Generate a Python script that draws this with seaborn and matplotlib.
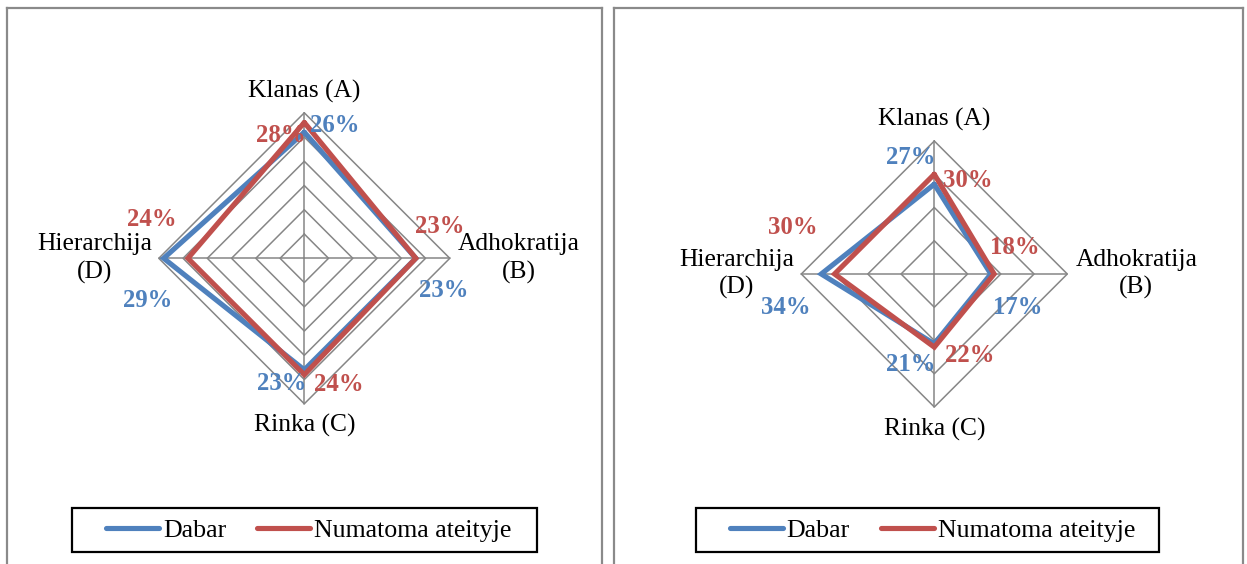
import numpy as np
import pandas as pd
import matplotlib
matplotlib.use("Agg")
import matplotlib.pyplot as plt
import seaborn as sns
from matplotlib.lines import Line2D
from matplotlib.patches import Rectangle

# ---- data -------------------------------------------------------------
categories = ["Klanas (A)", "Adhokratija\n(B)", "Rinka (C)", "Hierarchija\n(D)"]
series_names = ["Dabar", "Numatoma ateityje"]

left_dabar = [26, 23, 23, 29]
left_future = [28, 23, 24, 24]
right_dabar = [27, 17, 21, 34]
right_future = [30, 18, 22, 30]

left_ticks = [5, 10, 15, 20, 25, 30]
right_ticks = [10, 20, 30, 40]

# ---- styling ------------------------------------------------------------
sns.set_theme(style="white")
plt.rcParams["font.family"] = ["Liberation Serif", "DejaVu Serif"]
plt.rcParams["text.color"] = "black"

BLUE = "#4F81BD"
RED = "#C0504D"
GRID = "#868686"
palette = {series_names[0]: BLUE, series_names[1]: RED}

W, H = 1247, 564
fig = plt.figure(figsize=(W / 100, H / 100), dpi=100)

PX2PT = 72 / 100

# label offsets (pixels, x right / y up) for the value labels
left_off = {
    series_names[0]: [(30, 7), (28, -32), (-23, -14), (-16, -42)],
    series_names[1]: [(-23, -13), (24, 32), (35, -10), (-36, 39)],
}
right_off = {
    series_names[0]: [(-24, 27), (27, -34), (-24, -21), (-35, -34)],
    series_names[1]: [(34, -6), (21, 26), (35, -8), (-42, 46)],
}


def unit_dirs(n):
    ang = np.pi / 2 - np.arange(n) * 2 * np.pi / n
    return np.cos(ang), np.sin(ang)


def radar_panel(box, center, radius_px, ticks, dabar, future, offsets):
    x0, x1, ytop = box
    cx, cy = center
    rmax = ticks[-1]
    s = radius_px / rmax  # pixels per data unit
    ax = fig.add_axes([x0 / W, 0, (x1 - x0) / W, (H - ytop) / H])
    ax.set_xlim((x0 - cx) / s, (x1 - cx) / s)
    ax.set_ylim(-(H - cy) / s, (cy - ytop) / s)
    ax.set_xticks([])
    ax.set_yticks([])
    for side in ("top", "left", "right"):
        ax.spines[side].set_color("#8a8a8a")
        ax.spines[side].set_linewidth(1.6)
    ax.spines["bottom"].set_visible(False)

    ux, uy = unit_dirs(len(categories))

    # polygon grid rings and spokes
    for t in ticks:
        gx = np.append(ux * t, ux[0] * t)
        gy = np.append(uy * t, uy[0] * t)
        ax.plot(gx, gy, color=GRID, lw=1.1, zorder=1)
    for dx, dy in zip(ux, uy):
        ax.plot([0, dx * rmax], [0, dy * rmax], color=GRID, lw=1.1, zorder=1)

    # series polygons
    rows = []
    for name, vals in zip(series_names, [dabar, future]):
        closed = list(vals) + [vals[0]]
        dirs_x = list(ux) + [ux[0]]
        dirs_y = list(uy) + [uy[0]]
        for k, (v, dx, dy) in enumerate(zip(closed, dirs_x, dirs_y)):
            rows.append({"series": name, "step": k, "x": v * dx, "y": v * dy})
    df = pd.DataFrame(rows)
    sns.lineplot(data=df, x="x", y="y", hue="series", hue_order=series_names,
                 palette=palette, sort=False, estimator=None, linewidth=3.7,
                 solid_joinstyle="miter", legend=False, ax=ax, zorder=3)
    ax.set_xlabel("")
    ax.set_ylabel("")

    # value labels
    for name, vals in zip(series_names, [dabar, future]):
        for k, v in enumerate(vals):
            ox, oy = offsets[name][k]
            ax.annotate(f"{v}%", xy=(v * ux[k], v * uy[k]),
                        xytext=(ox * PX2PT, oy * PX2PT), textcoords="offset points",
                        ha="center", va="center", fontsize=17.8, fontweight="bold",
                        color=palette[name], zorder=4)

    # category labels around the outer ring
    cat_pos = [
        dict(xytext=(0, 21.5), ha="center", va="center"),
        dict(xytext=(8, 0), ha="left", va="center"),
        dict(xytext=(0, -22), ha="center", va="center"),
        dict(xytext=(-7, 0), ha="right", va="center"),
    ]
    for k, lab in enumerate(categories):
        p = cat_pos[k]
        ax.annotate(lab, xy=(rmax * ux[k], rmax * uy[k]),
                    xytext=(p["xytext"][0] * PX2PT, p["xytext"][1] * PX2PT),
                    textcoords="offset points", ha=p["ha"], va=p["va"],
                    multialignment="center", fontsize=18.4, color="black",
                    linespacing=1.33, zorder=4)
    return ax


def legend_box(ax, box):
    bx0, bx1, by0, by1 = box
    handles = [Line2D([], [], color=palette[n], lw=3.7, solid_capstyle="round")
               for n in series_names]
    leg = fig.legend(handles, series_names, loc="center left",
                     bbox_to_anchor=((bx0 + 34) / W, 1 - ((by0 + by1) / 2) / H),
                     frameon=False, ncol=2, fontsize=18.6, borderpad=0,
                     borderaxespad=0, handlelength=2.05, handletextpad=0.15,
                     columnspacing=1.2)
    for t in leg.get_texts():
        t.set_color("black")
    fig.add_artist(Rectangle((bx0 / W, 1 - by1 / H), (bx1 - bx0) / W, (by1 - by0) / H,
                             transform=fig.transFigure, fill=False,
                             edgecolor="black", lw=1.6, zorder=5))


axL = radar_panel((6.5, 602, 8), (304.3, 258.3), 145.5, left_ticks,
                  left_dabar, left_future, left_off)
legend_box(axL, (72.3, 536.7, 508.3, 552.3))

axR = radar_panel((614, 1243, 8), (934.3, 274), 133, right_ticks,
                  right_dabar, right_future, right_off)
legend_box(axR, (695.7, 1159.3, 508.3, 552.3))

fig.savefig("out.png", dpi=100, facecolor="white")
